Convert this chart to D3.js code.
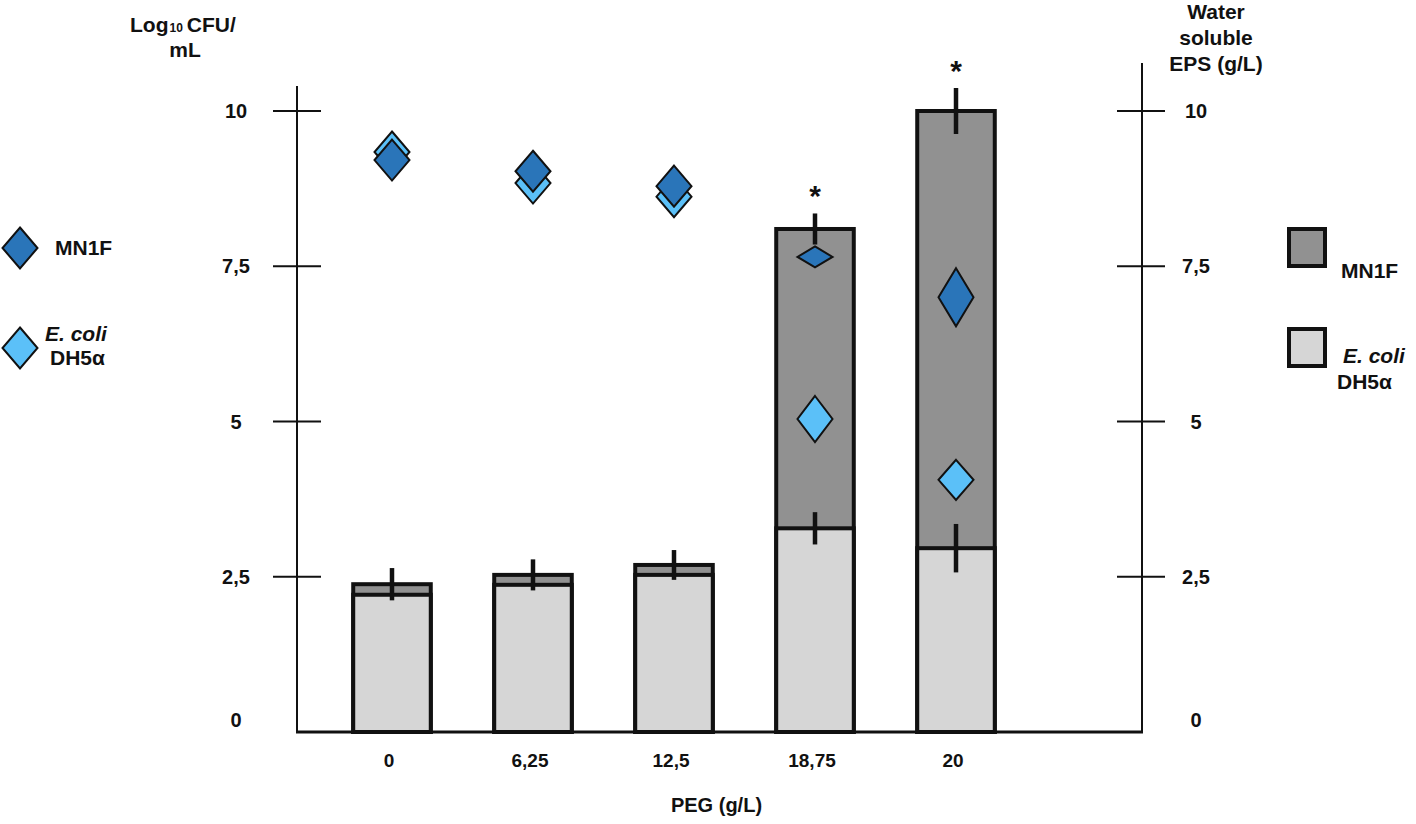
<!DOCTYPE html>
<html><head><meta charset="utf-8">
<script src="https://cdn.jsdelivr.net/npm/d3@7"></script>
<style>
body{margin:0;background:#fff}
text{font-family:"Liberation Sans",Arial,Helvetica,sans-serif;font-weight:bold;fill:#111}
</style>
</head><body><svg id="c" width="1416" height="824"></svg>
<script>
// ---------- data ----------
const pegLevels   = ["0","6,25","12,5","18,75","20"];
const yTickValues = [0,2.5,5,7.5,10];
const yTickLabels = ["0","2,5","5","7,5","10"];
// Water soluble EPS (g/L) - bars (right axis)
const epsMN1F     = [2.38, 2.53, 2.69, 8.10, 10.0];
const epsMN1FErr  = [0.26, 0.25, 0.24, 0.25, 0.37];
const epsEcoli    = [2.21, 2.37, 2.53, 3.28, 2.96];
const epsEcoliErr = [0, 0, 0, 0.26, 0.39];
const significant = [false, false, false, true, true];
// Log10 CFU/mL - diamonds (left axis)
const cfuMN1F  = [9.21, 9.03, 8.79, 7.65, 7.00];
const cfuEcoli = [9.34, 8.84, 8.62, 5.04, 4.06];

// ---------- styles ----------
const colMN1Fbar = "#919191", colEcoliBar = "#d6d6d6";
const colMN1Fpt = "#2a75b9", colEcoliPt = "#5bc0f8";
const markerW = 35;
const markerH = {mn: [41,41,41,21,58], ec: [41,41,41,46,40]};

const svg = d3.select("#c");
const L = 297, R = 1142, B = 732;

const x = d3.scaleBand().domain(pegLevels).range([L - 3, 1054]).paddingInner(0.45).paddingOuter(0.42);
const y = d3.scaleLinear().domain([0, 10]).range([B, 111]);

// ---------- axes ----------
const ax = svg.append("g").attr("stroke", "#111").attr("stroke-width", 2);
ax.append("line").attr("x1", L).attr("x2", L).attr("y1", 86).attr("y2", B);
ax.append("line").attr("x1", R).attr("x2", R).attr("y1", 63).attr("y2", B);
ax.append("line").attr("x1", L - 1).attr("x2", R + 1).attr("y1", B).attr("y2", B).attr("stroke-width", 3);
yTickValues.filter(v => v > 0).forEach(v => {
  ax.append("line").attr("x1", L - 24).attr("x2", L + 24).attr("y1", y(v)).attr("y2", y(v));
  ax.append("line").attr("x1", R - 25).attr("x2", R + 23).attr("y1", y(v)).attr("y2", y(v));
});
yTickValues.forEach((v, i) => {
  const yy = y(v) + (v === 0 ? -12 : 0);
  svg.append("text").attr("x", 236).attr("y", yy).attr("dy", "0.35em")
    .attr("text-anchor", "middle").attr("font-size", 20).text(yTickLabels[i]);
  svg.append("text").attr("x", 1196).attr("y", yy).attr("dy", "0.35em")
    .attr("text-anchor", "middle").attr("font-size", 20).text(yTickLabels[i]);
});
pegLevels.forEach(p => {
  svg.append("text").attr("x", x(p) + x.bandwidth() / 2 - 3).attr("y", 767)
    .attr("text-anchor", "middle").attr("font-size", 19).text(p);
});
svg.append("text").attr("x", (L + R) / 2 - 3).attr("y", 812).attr("text-anchor", "middle")
  .attr("font-size", 20).text("PEG (g/L)");

// axis titles
const lt = svg.append("text").attr("x", 130).attr("y", 32).attr("font-size", 21);
lt.append("tspan").text("Log");
lt.append("tspan").attr("font-size", 12).attr("dx", 1).text("10");
lt.append("tspan").attr("dx", 4).text("CFU/");
svg.append("text").attr("x", 185).attr("y", 57).attr("text-anchor", "middle").attr("font-size", 21).text("mL");
["Water", "soluble", "EPS (g/L)"].forEach((t, i) => {
  svg.append("text").attr("x", 1216).attr("y", 19 + i * 26).attr("text-anchor", "middle")
    .attr("font-size", 21).text(t);
});

// ---------- bars ----------
const bw = x.bandwidth();
const gBars = svg.append("g").attr("stroke", "#111").attr("stroke-width", 4);
gBars.selectAll("rect.mn").data(epsMN1F).join("rect").attr("class", "mn")
  .attr("x", (d, i) => x(pegLevels[i])).attr("width", bw)
  .attr("y", d => y(d)).attr("height", d => B - y(d)).attr("fill", colMN1Fbar);
gBars.selectAll("rect.ec").data(epsEcoli).join("rect").attr("class", "ec")
  .attr("x", (d, i) => x(pegLevels[i])).attr("width", bw)
  .attr("y", d => y(d)).attr("height", d => B - y(d)).attr("fill", colEcoliBar);

// error bars
const gErr = svg.append("g").attr("stroke", "#111").attr("stroke-width", 4.5);
function errBars(vals, errs) {
  vals.forEach((v, i) => {
    if (!errs[i]) return;
    const cx = x(pegLevels[i]) + bw / 2;
    gErr.append("line").attr("x1", cx).attr("x2", cx)
      .attr("y1", y(v + errs[i])).attr("y2", y(v - errs[i]));
  });
}
errBars(epsMN1F, epsMN1FErr);
errBars(epsEcoli, epsEcoliErr);

// significance asterisks
significant.forEach((s, i) => {
  if (!s) return;
  svg.append("text").attr("x", x(pegLevels[i]) + bw / 2).attr("y", y(epsMN1F[i] + epsMN1FErr[i]) - 7)
    .attr("text-anchor", "middle").attr("font-size", 30).text("*");
});

// ---------- diamonds ----------
function diamond(g, cx, cy, w, h, fill) {
  g.append("path").attr("d", `M${cx},${cy - h / 2}L${cx + w / 2},${cy}L${cx},${cy + h / 2}L${cx - w / 2},${cy}Z`)
    .attr("fill", fill).attr("stroke", "#111").attr("stroke-width", 2).attr("stroke-linejoin", "miter");
}
const gPts = svg.append("g");
cfuEcoli.forEach((v, i) => diamond(gPts, x(pegLevels[i]) + bw / 2, y(v), markerW, markerH.ec[i], colEcoliPt));
cfuMN1F.forEach((v, i) => diamond(gPts, x(pegLevels[i]) + bw / 2, y(v), markerW, markerH.mn[i], colMN1Fpt));

// ---------- legends ----------
diamond(svg, 20, 248, 35, 41, colMN1Fpt);
svg.append("text").attr("x", 55).attr("y", 255).attr("font-size", 21).text("MN1F");
diamond(svg, 20, 348, 35, 41, colEcoliPt);
svg.append("text").attr("x", 45).attr("y", 341).attr("font-size", 21).attr("font-style", "italic").text("E. coli");
svg.append("text").attr("x", 50).attr("y", 365).attr("font-size", 21).text("DH5α");

svg.append("rect").attr("x", 1289).attr("y", 229).attr("width", 36).attr("height", 37)
  .attr("fill", colMN1Fbar).attr("stroke", "#111").attr("stroke-width", 4);
svg.append("text").attr("x", 1341).attr("y", 278).attr("font-size", 21).text("MN1F");
svg.append("rect").attr("x", 1289).attr("y", 329).attr("width", 36).attr("height", 37)
  .attr("fill", colEcoliBar).attr("stroke", "#111").attr("stroke-width", 4);
svg.append("text").attr("x", 1343).attr("y", 363).attr("font-size", 21).attr("font-style", "italic").text("E. coli");
svg.append("text").attr("x", 1337).attr("y", 389).attr("font-size", 21).text("DH5α");
</script>
</body></html>
